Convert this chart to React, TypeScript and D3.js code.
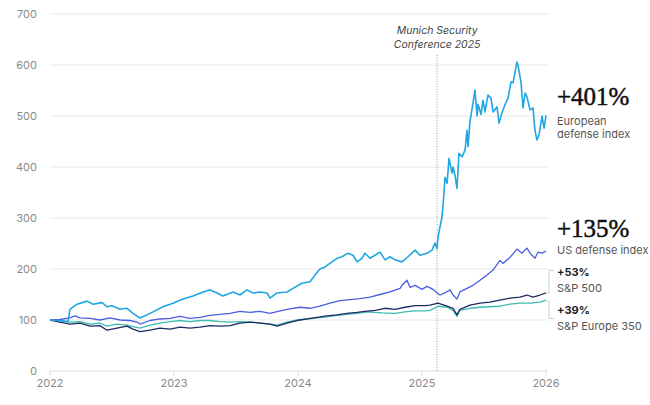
import * as d3 from "d3";
import { useEffect } from "react";

// Time is stored as decimal years, values indexed to 100 at start of 2022.
const euroDefense: [number, number][] = [
  [2022.0, 100], [2022.056, 99], [2022.105, 98], [2022.145, 97], [2022.161, 121],
  [2022.218, 131], [2022.298, 137], [2022.347, 131], [2022.419, 134], [2022.46, 126],
  [2022.5, 128], [2022.565, 121], [2022.621, 123], [2022.669, 113], [2022.726, 104],
  [2022.782, 110], [2022.831, 116], [2022.911, 126], [2022.992, 133], [2023.073, 141],
  [2023.153, 147], [2023.234, 155], [2023.29, 159], [2023.347, 153], [2023.395, 147],
  [2023.476, 155], [2023.532, 149], [2023.589, 159], [2023.637, 153], [2023.694, 155],
  [2023.75, 153], [2023.774, 143], [2023.831, 153], [2023.911, 155], [2023.96, 162],
  [2024.032, 172], [2024.097, 175], [2024.137, 188], [2024.177, 200], [2024.218, 204],
  [2024.274, 214], [2024.315, 221], [2024.355, 224], [2024.403, 231], [2024.444, 227],
  [2024.476, 214], [2024.516, 221], [2024.54, 231], [2024.581, 221], [2024.621, 227],
  [2024.661, 233], [2024.702, 218], [2024.742, 224], [2024.782, 218], [2024.839, 214],
  [2024.887, 224], [2024.944, 237], [2024.984, 227], [2025.04, 231], [2025.081, 237],
  [2025.105, 251], [2025.121, 240], [2025.129, 262], [2025.161, 302], [2025.169, 322],
  [2025.177, 349], [2025.185, 380], [2025.202, 368], [2025.218, 417], [2025.242, 388],
  [2025.25, 400], [2025.266, 384], [2025.282, 358], [2025.298, 427], [2025.323, 420],
  [2025.347, 433], [2025.363, 472], [2025.371, 440], [2025.387, 489], [2025.411, 525],
  [2025.427, 551], [2025.444, 500], [2025.452, 523], [2025.476, 503], [2025.492, 531],
  [2025.508, 508], [2025.532, 541], [2025.556, 535], [2025.573, 508], [2025.605, 518],
  [2025.621, 486], [2025.645, 506], [2025.669, 522], [2025.694, 535], [2025.718, 567],
  [2025.734, 565], [2025.766, 606], [2025.774, 600], [2025.798, 567], [2025.815, 516],
  [2025.831, 545], [2025.847, 537], [2025.871, 512], [2025.895, 516], [2025.911, 472],
  [2025.927, 453], [2025.944, 463], [2025.968, 500], [2025.984, 476], [2026.0, 501],
];

const usDefense: [number, number][] = [
  [2022.0, 100], [2022.081, 101], [2022.161, 104], [2022.202, 108], [2022.242, 104],
  [2022.323, 103], [2022.403, 100], [2022.484, 104], [2022.565, 100], [2022.645, 99],
  [2022.702, 96], [2022.726, 92], [2022.806, 99], [2022.887, 102], [2022.968, 103],
  [2023.048, 107], [2023.129, 103], [2023.21, 105], [2023.29, 109], [2023.371, 111],
  [2023.452, 113], [2023.532, 117], [2023.613, 115], [2023.694, 117], [2023.774, 113],
  [2023.855, 118], [2023.935, 122], [2024.016, 125], [2024.097, 123], [2024.177, 127],
  [2024.258, 133], [2024.339, 138], [2024.419, 140], [2024.5, 142], [2024.581, 145],
  [2024.661, 150], [2024.742, 155], [2024.823, 162], [2024.839, 168], [2024.879, 178],
  [2024.903, 164], [2024.944, 168], [2025.0, 160], [2025.04, 166], [2025.089, 160],
  [2025.145, 149], [2025.185, 153], [2025.226, 159], [2025.25, 149], [2025.282, 141],
  [2025.306, 155], [2025.363, 162], [2025.411, 168], [2025.468, 178], [2025.524, 188],
  [2025.573, 198], [2025.629, 217], [2025.653, 211], [2025.71, 223], [2025.766, 239],
  [2025.806, 231], [2025.847, 241], [2025.871, 231], [2025.911, 221], [2025.935, 233],
  [2025.968, 231], [2026.0, 235],
];

const sp500: [number, number][] = [
  [2022.0, 100], [2022.04, 98], [2022.081, 96], [2022.161, 92], [2022.242, 94],
  [2022.323, 88], [2022.403, 89], [2022.46, 80], [2022.54, 84], [2022.621, 88],
  [2022.669, 82], [2022.726, 77], [2022.806, 80], [2022.887, 84], [2022.968, 82],
  [2023.048, 86], [2023.129, 84], [2023.21, 86], [2023.29, 89], [2023.371, 88],
  [2023.452, 89], [2023.532, 94], [2023.613, 96], [2023.694, 94], [2023.774, 92],
  [2023.831, 88], [2023.911, 94], [2023.992, 99], [2024.073, 102], [2024.153, 105],
  [2024.234, 108], [2024.315, 110], [2024.395, 113], [2024.476, 115], [2024.54, 117],
  [2024.621, 119], [2024.702, 123], [2024.782, 121], [2024.863, 125], [2024.944, 128],
  [2025.024, 128], [2025.065, 129], [2025.129, 133], [2025.202, 127], [2025.25, 123],
  [2025.282, 110], [2025.306, 121], [2025.387, 129], [2025.468, 133], [2025.548, 135],
  [2025.629, 139], [2025.71, 143], [2025.79, 145], [2025.847, 149], [2025.895, 145],
  [2025.952, 149], [2026.0, 153],
];

const spEurope350: [number, number][] = [
  [2022.0, 100], [2022.081, 99], [2022.161, 96], [2022.242, 97], [2022.323, 92],
  [2022.403, 94], [2022.46, 88], [2022.54, 92], [2022.621, 90], [2022.669, 87],
  [2022.726, 84], [2022.806, 90], [2022.887, 94], [2022.968, 97], [2023.048, 99],
  [2023.129, 97], [2023.21, 99], [2023.29, 99], [2023.371, 97], [2023.452, 96],
  [2023.532, 97], [2023.613, 96], [2023.694, 94], [2023.774, 92], [2023.831, 90],
  [2023.911, 96], [2023.992, 100], [2024.073, 102], [2024.153, 104], [2024.234, 106],
  [2024.315, 109], [2024.395, 111], [2024.476, 113], [2024.565, 116], [2024.677, 114],
  [2024.782, 113], [2024.863, 116], [2024.944, 118], [2025.024, 118], [2025.065, 119],
  [2025.129, 127], [2025.202, 125], [2025.25, 119], [2025.282, 107], [2025.306, 119],
  [2025.387, 123], [2025.468, 125], [2025.548, 126], [2025.629, 127], [2025.71, 131],
  [2025.79, 133], [2025.871, 133], [2025.952, 135], [2026.0, 139],
];

const yTicks = [0, 100, 200, 300, 400, 500, 600, 700];
const xTicks = [2022, 2023, 2024, 2025, 2026];
const munichDate = 2025.122;
const munichLabel = ["Munich Security", "Conference 2025"];

const WIDTH = 650;
const HEIGHT = 405;
const MARGIN = { top: 14, right: 104, bottom: 34, left: 50 };

const SANS = "Inter, 'Noto Sans', Arial, sans-serif";
const SERIF = "'Liberation Serif', 'DejaVu Serif', serif";

const series = [
  { id: "spEurope350", points: spEurope350, color: "#3cbcae", width: 1.3 },
  { id: "sp500", points: sp500, color: "#1c2a63", width: 1.3 },
  { id: "usDefense", points: usDefense, color: "#4b5fe0", width: 1.3 },
  { id: "euroDefense", points: euroDefense, color: "#20a6e2", width: 1.6 },
];

export default function App() {
  useEffect(() => {
    document.body.style.margin = "0";
  }, []);

  const x = d3
    .scaleLinear()
    .domain([2022, 2026])
    .range([MARGIN.left, WIDTH - MARGIN.right]);
  const y = d3
    .scaleLinear()
    .domain([0, 700])
    .range([HEIGHT - MARGIN.bottom, MARGIN.top]);
  const line = d3
    .line<[number, number]>()
    .x((d) => x(d[0]))
    .y((d) => y(d[1]));

  const gridRight = x(2026) + 2;
  const endX = x(2026);
  const labelX = endX + 11;

  return (
    <svg width={WIDTH} height={HEIGHT} style={{ display: "block" }}>
      <rect width={WIDTH} height={HEIGHT} fill="#fff" />
      {yTicks.map((t) => (
        <g key={t}>
          {t > 0 && (
            <line x1={x(2022)} x2={gridRight} y1={y(t)} y2={y(t)} stroke="#e9e9e9" strokeWidth={1} />
          )}
          <text
            x={37}
            y={y(t)}
            dy="0.35em"
            textAnchor="end"
            fontFamily={SANS}
            fontSize={11}
            fill="#8a8a8a"
          >
            {t}
          </text>
        </g>
      ))}
      <line x1={x(2022)} x2={gridRight} y1={y(0)} y2={y(0)} stroke="#dcdcdc" />
      {xTicks.map((t) => (
        <g key={t}>
          <line x1={x(t)} x2={x(t)} y1={y(0)} y2={y(0) + 5} stroke="#dcdcdc" />
          <text x={x(t)} y={y(0) + 16} textAnchor="middle" fontFamily={SANS} fontSize={11} fill="#8a8a8a">
            {t}
          </text>
        </g>
      ))}

      <line
        x1={x(munichDate)}
        x2={x(munichDate)}
        y1={55}
        y2={y(0)}
        stroke="#9a9a9a"
        strokeWidth={1}
        strokeDasharray="1,1.6"
      />
      {munichLabel.map((s, i) => (
        <text
          key={s}
          x={x(munichDate)}
          y={34 + i * 14}
          textAnchor="middle"
          fontFamily={SANS}
          fontStyle="italic"
          fontSize={10.5}
          fill="#444"
        >
          {s}
        </text>
      ))}

      {series.map((s) => (
        <path
          key={s.id}
          d={line(s.points) ?? ""}
          fill="none"
          stroke={s.color}
          strokeWidth={s.width}
          strokeLinejoin="round"
        />
      ))}

      {/* leader brackets for the two broad indices */}
      <path
        d={`M${endX + 1},${y(153)} H${endX + 3} V${y(197)} H${endX + 8}`}
        fill="none"
        stroke="#cfcfcf"
      />
      <path
        d={`M${endX + 1},${y(137)} H${endX + 3} V${y(103)} H${endX + 8}`}
        fill="none"
        stroke="#cfcfcf"
      />

      <text x={labelX} y={105} fontFamily={SERIF} fontSize={25} fill="#111" stroke="#111" strokeWidth={0.5}>+401%</text>
      <text x={labelX} y={125} fontFamily={SANS} fontSize={11} fill="#555">European</text>
      <text x={labelX} y={138} fontFamily={SANS} fontSize={11} fill="#555">defense index</text>

      <text x={labelX} y={237} fontFamily={SERIF} fontSize={25} fill="#111" stroke="#111" strokeWidth={0.5}>+135%</text>
      <text x={labelX} y={254} fontFamily={SANS} fontSize={11} fill="#555">US defense index</text>

      <text x={labelX} y={276} fontFamily={SANS} fontSize={11} fontWeight={700} fill="#222">+53%</text>
      <text x={labelX} y={292} fontFamily={SANS} fontSize={11} fill="#555">S&amp;P 500</text>

      <text x={labelX} y={314} fontFamily={SANS} fontSize={11} fontWeight={700} fill="#222">+39%</text>
      <text x={labelX} y={330} fontFamily={SANS} fontSize={11} fill="#555">S&amp;P Europe 350</text>
    </svg>
  );
}
